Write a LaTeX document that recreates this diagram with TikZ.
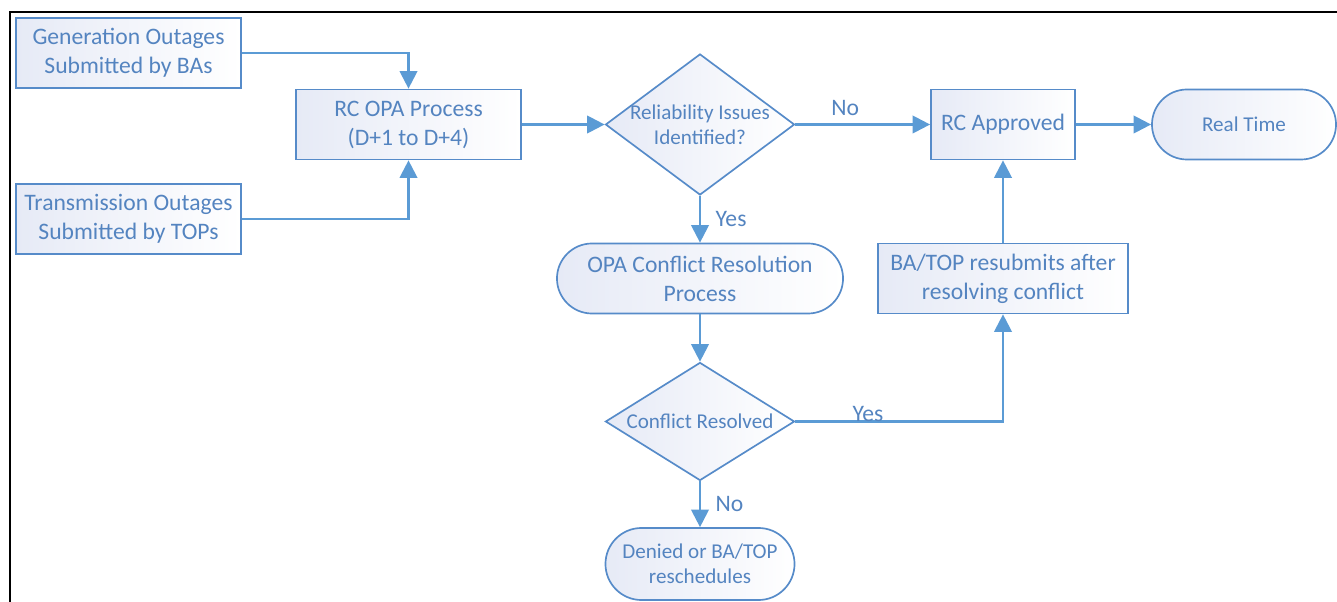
\documentclass[tikz,border=0pt]{standalone}
\usepackage{fontspec}
\setmainfont{Carlito}
\usetikzlibrary{arrows.meta,shapes.geometric}
\definecolor{flowblue}{RGB}{91,155,213}
\definecolor{flowline}{RGB}{86,139,201}
\definecolor{flowtext}{RGB}{84,132,192}
\definecolor{flowfill}{RGB}{230,234,246}

\begin{document}
\begin{tikzpicture}[x=0.025cm,y=-0.025cm,
  txt/.style={font=\fontsize{16.8}{20.6}\selectfont,text=flowtext,align=center},
  small/.style={font=\fontsize{15}{18}\selectfont},
  box/.style={txt,draw=flowline,line width=1.2pt,left color=flowfill,right color=white,
              minimum height=1.75cm,inner sep=2pt},
  term/.style={box,small,rounded corners=0.875cm},
  dec/.style={box,shape=diamond,inner sep=0pt},
  edge/.style={-{Triangle[length=12.5pt,width=12.5pt]},draw=flowblue,line width=1.6pt},
  lbl/.style={txt},
  frame/.style={draw=black,line width=1.6pt}
]
  \useasboundingbox (0,0) rectangle (1337,602);
  \draw[frame] (10,602) -- (10,12) -- (1337,12);

  \node[box,minimum width=5.625cm] (gen) at (128.5,53) {Generation Outages\\Submitted by BAs};
  \node[box,minimum width=5.625cm] (trn) at (128.5,219) {Transmission Outages\\Submitted by TOPs};
  \node[box,minimum width=5.625cm] (opa) at (408.5,124.5) {RC OPA Process\\(D+1 to D+4)};
  \node[dec,minimum width=4.725cm,minimum height=3.525cm,
        label={[lbl,small]center:Reliability Issues\\Identified?}] (rel) at (700,124.5) {};
  \node[box,minimum width=3.6cm] (apr) at (1003,124.5) {RC Approved};
  \node[term,minimum width=4.6cm] (rt) at (1244,124.5) {Real Time};
  \node[term,txt,minimum width=7.15cm] (ocr) at (700,278.5) {OPA Conflict Resolution\\Process};
  \node[box,minimum width=6.25cm] (res) at (1003,278.5) {BA/TOP resubmits after\\resolving conflict};
  \node[dec,minimum width=4.725cm,minimum height=2.95cm,
        label={[lbl,small]center:Conflict Resolved}] (cfl) at (700,421.5) {};
  \node[term,minimum width=4.725cm,minimum height=1.8cm,rounded corners=0.9cm] (den) at (700,564)
    {Denied or BA/TOP\\reschedules};

  \draw[edge] (gen) -| (opa);
  \draw[edge] (trn) -| (opa);
  \draw[edge] (opa) -- (rel);
  \draw[edge] (rel) -- node[lbl,pos=.37,above=2pt] {No} (apr);
  \draw[edge] (apr) -- (rt);
  \draw[edge] (rel) -- node[lbl,right=7pt] {Yes} (ocr);
  \draw[edge] (ocr) -- (cfl);
  \draw[edge] (cfl) -| node[lbl,pos=.175,anchor=base,inner sep=0pt] {Yes} (res);
  \draw[edge] (res) -- (apr);
  \draw[edge] (cfl) -- node[lbl,right=7pt] {No} (den);
\end{tikzpicture}
\end{document}
